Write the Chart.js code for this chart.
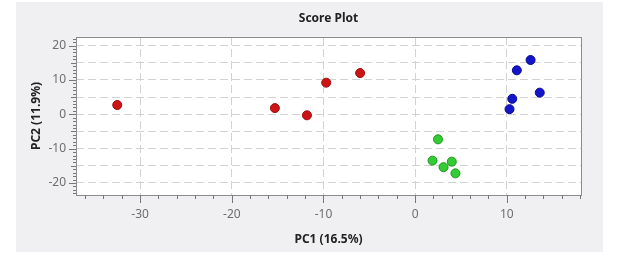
<!DOCTYPE html>
<html>
<head>
<meta charset="utf-8">
<script src="https://cdn.jsdelivr.net/npm/chart.js@4/dist/chart.umd.min.js"></script>
<style>
  html, body { margin: 0; padding: 0; background: #fff; }
  #wrap { width: 621px; height: 258px; }
</style>
</head>
<body>
<div id="wrap"><canvas id="score"></canvas></div>
<script>
// scores
const groupA_pc1 = [-32.5, -15.3, -11.8, -9.7, -6.0];
const groupA_pc2 = [2.7, 1.8, -0.3, 9.2, 12.0];
const groupB_pc1 = [12.6, 11.1, 13.6, 10.6, 10.3];
const groupB_pc2 = [15.8, 12.8, 6.3, 4.5, 1.5];
const groupC_pc1 = [2.5, 1.9, 3.1, 4.0, 4.4];
const groupC_pc2 = [-7.3, -13.5, -15.4, -13.8, -17.2];

const xTicks = [];
for (let v = -36; v <= 18; v += 2) xTicks.push(v);
const yTicks = [];
for (let v = -23; v <= 22; v++) yTicks.push(v);

const chartTitle = "Score Plot";
const xTitle = "PC1 (16.5%)";
const yTitle = "PC2 (11.9%)";
const FONT = "'Noto Sans', 'Open Sans', sans-serif";

const toPoints = (xs, ys) => xs.map((x, i) => ({ x: x, y: ys[i] }));

const frame = {
  id: "frame",
  beforeDraw(chart) {
    const { ctx, chartArea: a } = chart;
    ctx.save();
    ctx.fillStyle = "#fff";
    ctx.fillRect(0, 0, chart.width, chart.height);
    ctx.fillStyle = "#f0eff2";
    ctx.fillRect(16, 2, 587, 250);
    ctx.fillStyle = "#fff";
    ctx.fillRect(a.left, a.top, a.right - a.left, a.bottom - a.top);
    ctx.restore();
  },
  afterDraw(chart) {
    const { ctx, chartArea: a } = chart;
    const xs = chart.scales.x, ys = chart.scales.y;
    ctx.save();
    ctx.strokeStyle = "#8c8c8c";
    ctx.lineWidth = 1;
    ctx.strokeRect(Math.round(a.left) + 0.5, Math.round(a.top) + 0.5,
      Math.round(a.right - a.left), Math.round(a.bottom - a.top));
    ctx.strokeStyle = "#777";
    ctx.beginPath();
    xs.ticks.forEach(t => {
      const px = Math.round(xs.getPixelForValue(t.value)) + 0.5;
      const len = t.value % 10 === 0 ? 8 : 4;
      ctx.moveTo(px, a.bottom);
      ctx.lineTo(px, a.bottom + len);
    });
    ys.ticks.forEach(t => {
      const py = Math.round(ys.getPixelForValue(t.value)) + 0.5;
      const len = t.value % 10 === 0 ? 7 : (t.value % 5 === 0 ? 5 : 3);
      ctx.moveTo(a.left, py);
      ctx.lineTo(a.left - len, py);
    });
    ctx.stroke();
    ctx.fillStyle = "#222";
    ctx.font = "bold 12px " + FONT;
    ctx.textAlign = "center";
    ctx.textBaseline = "middle";
    ctx.fillText(chartTitle, (a.left + a.right) / 2, 19);
    ctx.restore();
  }
};

const gridColor = step => c => (c.tick && c.tick.value % step === 0) ? "#d2d2d2" : "rgba(0,0,0,0)";

new Chart(document.getElementById("score"), {
  type: "scatter",
  data: {
    datasets: [
      { data: toPoints(groupA_pc1, groupA_pc2), backgroundColor: "#cc1414", borderColor: "#a00c0c" },
      { data: toPoints(groupB_pc1, groupB_pc2), backgroundColor: "#1414c8", borderColor: "#0a0a96" },
      { data: toPoints(groupC_pc1, groupC_pc2), backgroundColor: "#33cc33", borderColor: "#1f961f" }
    ]
  },
  options: {
    responsive: true,
    maintainAspectRatio: false,
    animation: false,
    layout: { padding: { left: 16, right: 40, top: 37, bottom: 0 } },
    elements: { point: { radius: 4.5, borderWidth: 1, hoverRadius: 4.5 } },
    plugins: { legend: { display: false }, tooltip: { enabled: false } },
    scales: {
      x: {
        type: "linear",
        min: -37, max: 18.1,
        afterBuildTicks: s => { s.ticks = xTicks.map(v => ({ value: v })); },
        afterFit: s => { s.height = 63; },
        grid: { color: gridColor(10), drawTicks: false },
        border: { display: false, dash: [8, 4] },
        ticks: {
          autoSkip: false, maxRotation: 0, padding: 12,
          color: "#6e6e6e", font: { family: FONT, size: 12 },
          callback: v => v % 10 === 0 ? String(v) : ""
        },
        title: {
          display: true, text: xTitle, color: "#222",
          font: { family: FONT, size: 12, weight: "bold" },
          padding: { top: 11, bottom: 11 }
        }
      },
      y: {
        type: "linear",
        min: -23.5, max: 22.5,
        afterBuildTicks: s => { s.ticks = yTicks.map(v => ({ value: v })); },
        afterFit: s => { s.width = 60; },
        grid: { color: gridColor(5), drawTicks: false },
        border: { display: false, dash: [8, 4] },
        ticks: {
          autoSkip: false, padding: 10,
          color: "#6e6e6e", font: { family: FONT, size: 12 },
          callback: v => v % 10 === 0 ? String(v) : ""
        },
        title: {
          display: true, text: yTitle, color: "#222",
          font: { family: FONT, size: 12, weight: "bold" },
          padding: { top: 13, bottom: 13 }
        }
      }
    }
  },
  plugins: [frame]
});
</script>
</body>
</html>
